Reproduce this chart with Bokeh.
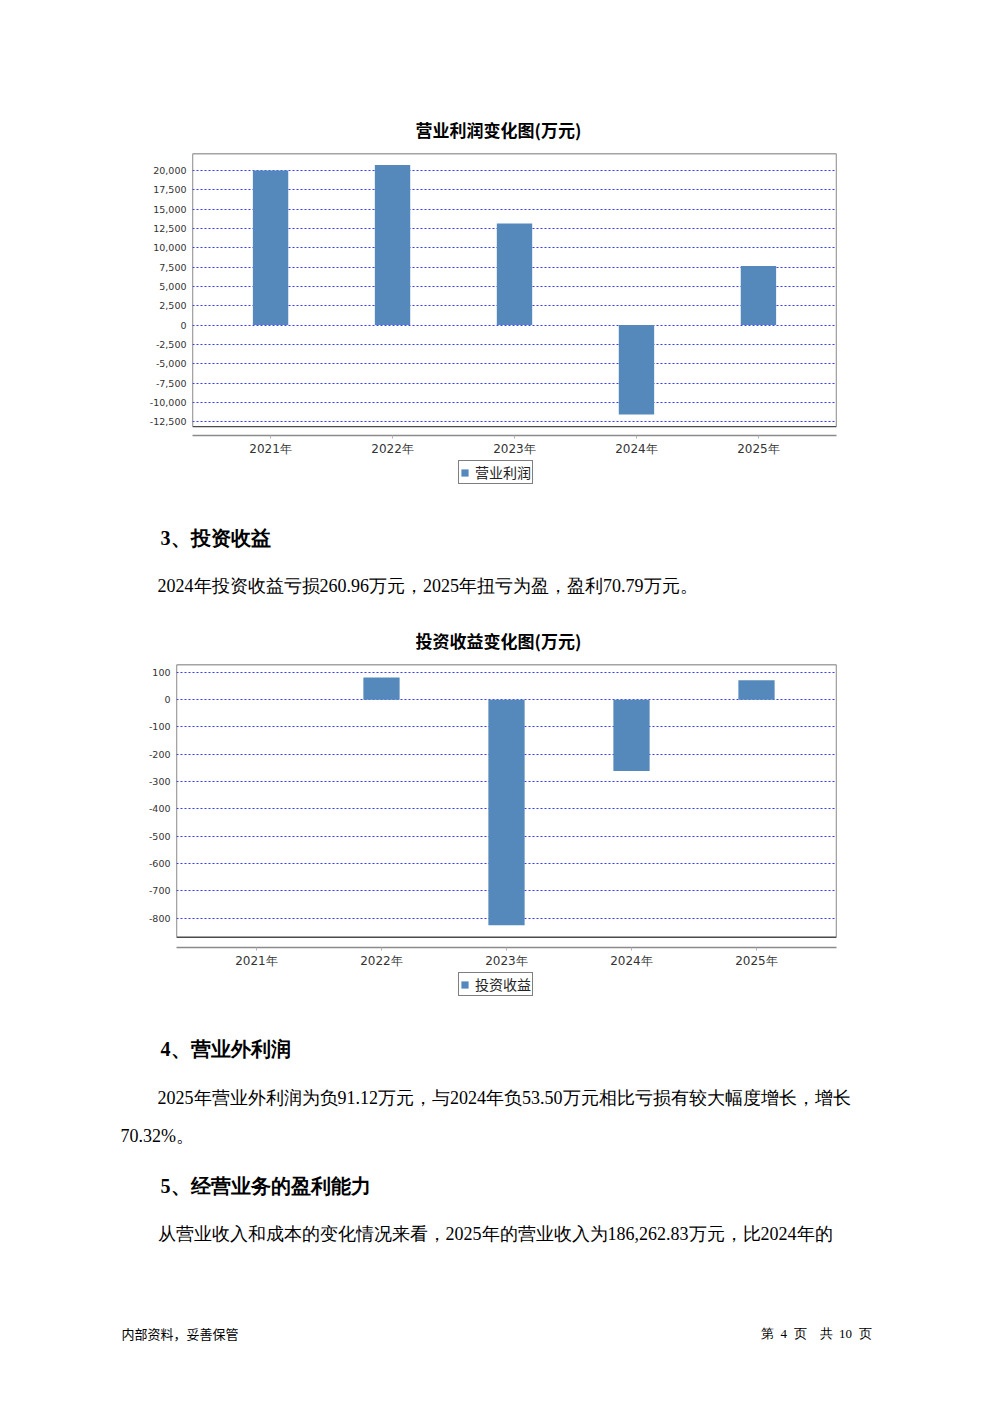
from bokeh.plotting import figure
from bokeh.layouts import column
from bokeh.models import (Range1d, FactorRange, FixedTicker, NumeralTickFormatter,
                          BoxAnnotation, Legend, LegendItem)
from bokeh.core.properties import value
from bokeh.embed import file_html
from bokeh.resources import INLINE

# ---------------- data ----------------
years = ["2021年", "2022年", "2023年", "2024年", "2025年"]
op_profit = [19980, 20690, 13150, -11550, 7640]          # 营业利润 (万元)
inv_income = [0, 81, -826, -260.96, 70.79]               # 投资收益 (万元)
op_profit_ticks = list(range(-12500, 20001, 2500))
inv_income_ticks = list(range(-800, 101, 100))

chart1_title = "营业利润变化图(万元)"
chart1_series = "营业利润"
chart2_title = "投资收益变化图(万元)"
chart2_series = "投资收益"

heading3 = "3、投资收益"
para3 = "2024年投资收益亏损260.96万元，2025年扭亏为盈，盈利70.79万元。"
heading4 = "4、营业外利润"
para4_l1 = "2025年营业外利润为负91.12万元，与2024年负53.50万元相比亏损有较大幅度增长，增长"
para4_l2 = "70.32%。"
heading5 = "5、经营业务的盈利能力"
para5 = "从营业收入和成本的变化情况来看，2025年的营业收入为186,262.83万元，比2024年的"
footer_left = "内部资料，妥善保管"
footer_right = "第\u00a0\u00a04\u00a0\u00a0页\u00a0\u00a0\u00a0\u00a0共\u00a0\u00a010\u00a0\u00a0页"

# ---------------- style ----------------
W = 976
BAR = "#5589bb"
GRID = "#3a3aff"
CJK = "Noto Sans CJK SC"
SERIF = "Liberation Serif"


def no_align(p):
    if "frame_align" in p.properties():
        p.frame_align = False
    return p


def bar_chart(title, cats, vals, ticks, y_lo, y_hi, box_bottom,
              height, left, top, bottom, title_offset):
    p = figure(width=W, height=height,
               x_range=FactorRange(factors=cats, range_padding=0.14,
                                   range_padding_units="absolute"),
               y_range=Range1d(y_lo, y_hi),
               toolbar_location=None, output_backend="svg",
               min_border_left=left, min_border_right=W - 836,
               min_border_top=top, min_border_bottom=bottom)
    no_align(p)
    p.outline_line_color = None
    p.background_fill_color = "white"
    p.border_fill_color = "white"

    p.title.text = title
    p.title.text_font = CJK
    p.title.text_font_size = "17px"
    p.title.text_font_style = "bold"
    p.title.text_color = "black"
    p.title.align = "left"
    p.title.offset = title_offset
    p.title.standoff = 24

    p.vbar(x=cats, top=vals, width=0.29, fill_color=BAR, line_color=None)

    # frame box (stops above the category axis)
    p.add_layout(BoxAnnotation(bottom=box_bottom, fill_color=None, fill_alpha=0,
                               line_color="#4a4a4a", line_width=1.3, line_alpha=1))

    p.xgrid.visible = False
    p.ygrid.grid_line_color = GRID
    p.ygrid.grid_line_dash = "2 2"
    p.ygrid.grid_line_width = 1
    p.ygrid.ticker = FixedTicker(ticks=ticks)

    ya = p.yaxis[0]
    ya.ticker = FixedTicker(ticks=ticks)
    ya.formatter = NumeralTickFormatter(format="0,0")
    ya.axis_line_color = None
    ya.major_tick_line_color = None
    ya.minor_tick_line_color = None
    ya.major_tick_out = 0
    ya.major_tick_in = 0
    ya.major_label_standoff = 6
    ya.major_label_text_font = "DejaVu Sans"
    ya.major_label_text_font_size = "9.5px"
    ya.major_label_text_color = "#333333"

    xa = p.xaxis[0]
    xa.axis_line_color = "#8a8a8a"
    xa.axis_line_width = 1.5
    xa.major_tick_line_color = "#b0b0b0"
    xa.major_tick_out = 3
    xa.major_tick_in = 0
    xa.major_label_standoff = 3
    xa.major_label_text_font = "DejaVu Sans"
    xa.major_label_text_font_size = "12px"
    xa.major_label_text_color = "#333333"
    return p


def text_fig(height, items, legend=None):
    p = figure(width=W, height=height, x_range=Range1d(0, W),
               y_range=Range1d(height, 0), x_axis_type=None, y_axis_type=None,
               toolbar_location=None, output_backend="svg", min_border=0)
    no_align(p)
    p.outline_line_color = None
    for (x, y, t, size, font, style, align) in items:
        p.text(x=[x], y=[y], text=[t], text_font=value(font),
               text_font_size=size, text_font_style=style,
               text_align=align, text_baseline="middle", text_color="black")
    if legend is not None:
        label, lx, ly = legend
        # series swatch for the chart legend (same style as the chart's bars),
        # its one point lies outside the visible range
        r = p.vbar(x=[-1000], top=[0], width=0.29, fill_color=BAR, line_color=None)
        lg = Legend(items=[LegendItem(label=label, renderers=[r])],
                    location=(lx, ly), margin=0, orientation="horizontal",
                    glyph_width=9, glyph_height=9, label_standoff=6,
                    padding=1, spacing=0, label_height=15,
                    border_line_color="black", border_line_width=1.5,
                    background_fill_color="white", background_fill_alpha=1,
                    label_text_font=CJK, label_text_font_size="14px",
                    label_text_color="#222222")
        p.add_layout(lg)
    return p


# top blank block: page y 0 -> 98
t0 = text_fig(98, [])

# chart 1: page y 98 -> 458, frame 153 -> 436, box bottom 427, zero at 325.2
c1 = bar_chart(chart1_title, years, op_profit, op_profit_ticks,
               y_lo=-14278, y_hi=22191, box_bottom=-13119,
               height=360, left=192, top=55, bottom=22, title_offset=223)

# text block 1 (legend of chart 1 + section 3): page y 458 -> 609
t1 = text_fig(151, [
    (160, 79, heading3, "20px", SERIF, "bold", "left"),
    (157, 127, para3, "18px", SERIF, "normal", "left"),
], legend=(chart1_series, 458, 125))

# chart 2: page y 609 -> 970, frame 664 -> 948, box bottom 938, zero at 699.3
c2 = bar_chart(chart2_title, years, inv_income, inv_income_ticks,
               y_lo=-907.1, y_hi=128.6, box_bottom=-869.6,
               height=361, left=176, top=55, bottom=22, title_offset=239)

# text block 2 (legend of chart 2 + sections 4, 5, footer): page y 970 -> 1395
t2 = text_fig(425, [
    (160, 78, heading4, "20px", SERIF, "bold", "left"),
    (157, 127, para4_l1, "18px", SERIF, "normal", "left"),
    (120, 165, para4_l2, "18px", SERIF, "normal", "left"),
    (160, 215, heading5, "20px", SERIF, "bold", "left"),
    (157, 263, para5, "18px", SERIF, "normal", "left"),
    (121, 363, footer_left, "13px", CJK, "normal", "left"),
    (871, 363, footer_right, "13px", SERIF, "normal", "right"),
], legend=(chart2_series, 458, 399))

layout = column(t0, c1, t1, c2, t2, spacing=0)

open("out.html", "w").write(file_html(layout, INLINE))
